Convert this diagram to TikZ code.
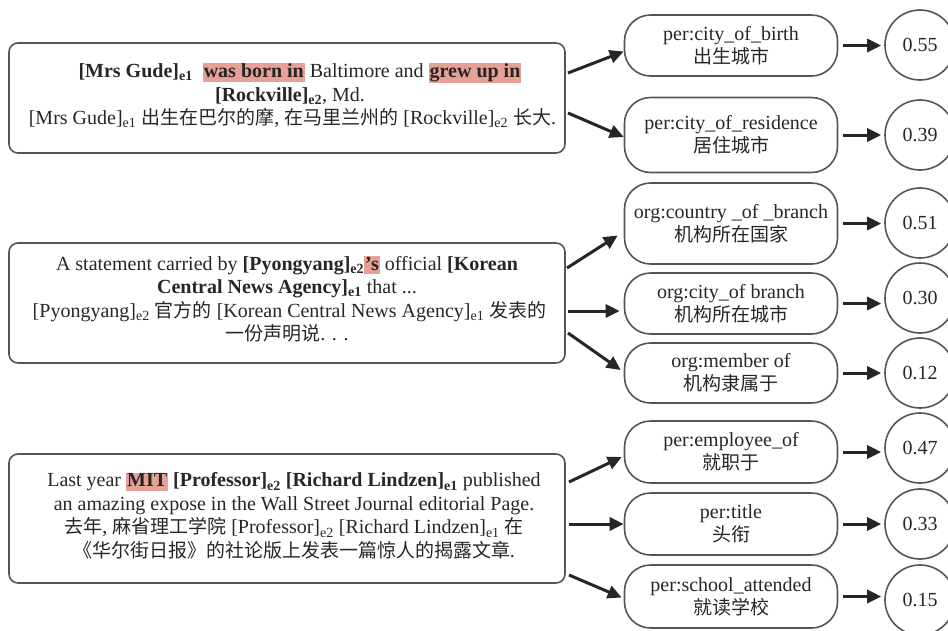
\documentclass[tikz,border=0pt]{standalone}
\usepackage{fontspec}
\setmainfont{Liberation Serif}
\newfontfamily\cjk{Noto Sans CJK SC}[Scale=0.95]
\usetikzlibrary{arrows.meta}
\definecolor{hlc}{RGB}{230,160,150}
\definecolor{txt}{RGB}{38,38,38}
\definecolor{edge}{RGB}{85,85,85}
\newcommand{\hlt}[1]{{\setlength{\fboxsep}{1pt}\colorbox{hlc}{\rule[-3pt]{0pt}{15pt}#1}}}
\newcommand{\sbs}[1]{\textsubscript{#1}}
\tikzset{
  sentbox/.style={draw=edge, line width=1.6pt, rounded corners=9pt, minimum width=556pt},
  senttext/.style={align=center, text=txt, font=\fontsize{20}{23.5}\selectfont, inner sep=0pt},
  relbox/.style={draw=edge, line width=1.6pt, rounded corners=26pt, minimum width=213pt,
    align=center, text=txt, font=\fontsize{20}{23}\selectfont, inner sep=2pt},
  score/.style={draw=edge, line width=1.6pt, circle, minimum size=70pt, inner sep=0pt,
    text=txt, font=\fontsize{20}{23}\selectfont},
  arr/.style={draw=txt, line width=3pt, -{Triangle[length=14pt,width=13pt]}},
}
\begin{document}
\begin{tikzpicture}[x=1pt,y=-1pt]
\useasboundingbox (0,0) rectangle (948,630);
\clip (0,0) rectangle (948,630);
% sentence boxes
\node[sentbox, minimum height=110pt] (b1) at (287,98) {};
\node[senttext] (t1) at (290,95.5)
  {\hspace*{20pt}\textbf{[Mrs Gude]\sbs{e1}}\ \ \hlt{\textbf{was born in}} Baltimore and \hlt{\textbf{grew up in}}\\
   \textbf{[Rockville]\sbs{e2}}, Md.\\{}
   [Mrs Gude]\sbs{e1} {\cjk 出生在巴尔的摩}, {\cjk 在马里兰州的} [Rockville]\sbs{e2} {\cjk 长大}.};
\node[sentbox, minimum height=120pt] (b2) at (287,303) {};
\node[senttext] (t2) at (287,299)
  {A statement carried by \textbf{[Pyongyang]\sbs{e2}}\hlt{\textbf{'s}} official \textbf{[Korean}\\
   \textbf{Central News Agency]\sbs{e1}} that ...\\{}
   [Pyongyang]\sbs{e2} {\cjk 官方的} [Korean Central News Agency]\sbs{e1} {\cjk 发表的}\\
   {\cjk 一份声明说}. . .};
\node[sentbox, minimum height=129pt] (b3) at (287,518.5) {};
\node[senttext] (t3) at (294,516)
  {Last year \hlt{\textbf{MIT}} \textbf{[Professor]\sbs{e2}} \textbf{[Richard Lindzen]\sbs{e1}} published\\
   an amazing expose in the Wall Street Journal editorial Page.\\
   {\cjk 去年}, {\cjk 麻省理工学院} [Professor]\sbs{e2} [Richard Lindzen]\sbs{e1} {\cjk 在}\\
   {\cjk 《华尔街日报》的社论版上发表一篇惊人的揭露文章}.};
% relation boxes
\node[relbox, minimum height=61pt] (r1) at (731,45.5) {per:city\_of\_birth\\{\cjk 出生城市}};
\node[relbox, minimum height=75pt] (r2) at (731,135) {per:city\_of\_residence\\{\cjk 居住城市}};
\node[relbox, minimum height=81pt] (r3) at (731,223.5) {org:country \_of \_branch\\{\cjk 机构所在国家}};
\node[relbox, minimum height=61pt] (r4) at (731,303.5) {org:city\_of branch\\{\cjk 机构所在城市}};
\node[relbox, minimum height=60pt] (r5) at (731,373) {org:member of\\{\cjk 机构隶属于}};
\node[relbox, minimum height=62pt] (r6) at (731,452) {per:employee\_of\\{\cjk 就职于}};
\node[relbox, minimum height=62pt] (r7) at (731,524) {per:title\\{\cjk 头衔}};
\node[relbox, minimum height=63pt] (r8) at (731,596.5) {per:school\_attended\\{\cjk 就读学校}};
% scores
\node[score] (c1) at (920,45) {0.55};
\node[score] (c2) at (920,135) {0.39};
\node[score] (c3) at (920,223) {0.51};
\node[score] (c4) at (920,298) {0.30};
\node[score] (c5) at (920,373) {0.12};
\node[score] (c6) at (920,448) {0.47};
\node[score] (c7) at (920,524) {0.33};
\node[score] (c8) at (920,600) {0.15};
% arrow starts
\coordinate (s1) at (568,73);
\coordinate (s2) at (568,113);
\coordinate (s3) at (567,268);
\coordinate (s4) at (568,311);
\coordinate (s5) at (568,333);
\coordinate (s6) at (569,482);
\coordinate (s7) at (569,524);
\coordinate (s8) at (569,575);
\draw[arr] (s1) -- ([shift={(0,6)}]r1.west);
\draw[arr] (s2) -- ([shift={(0,2)}]r2.west);
\draw[arr] (s3) -- ([shift={(-6,12)}]r3.west);
\draw[arr] (s4) -- ([shift={(-4,7.5)}]r4.west);
\draw[arr] (s5) -- ([shift={(-3,-3)}]r5.west);
\draw[arr] (s6) -- ([shift={(-2,5)}]r6.west);
\draw[arr] (s7) -- (r7.west);
\draw[arr] (s8) -- ([shift={(-2,1)}]r8.west);
% arrows to scores
\foreach \i in {1,...,8} {
  \draw[arr, shorten <=5pt, shorten >=3pt] (r\i.east) -- (c\i.west |- r\i.east);
}
\end{tikzpicture}
\end{document}
